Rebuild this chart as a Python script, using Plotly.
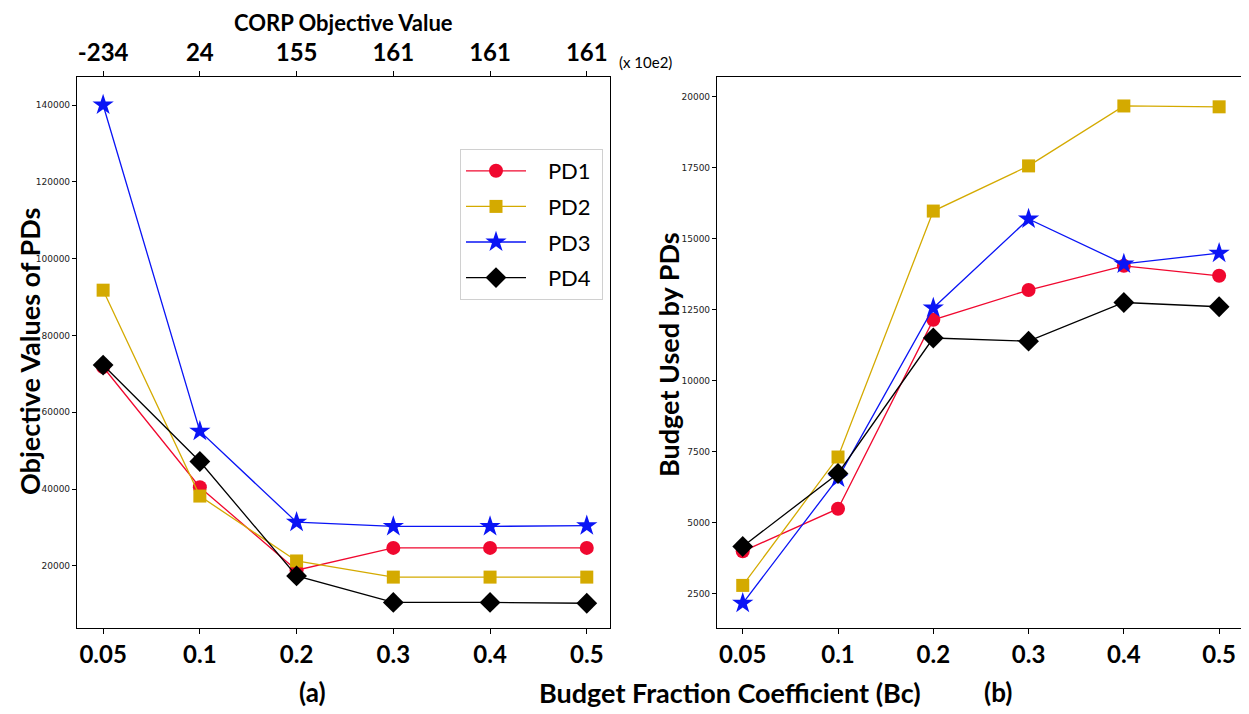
import plotly.graph_objects as go

categories = ["0.05", "0.1", "0.2", "0.3", "0.4", "0.5"]
corp_labels = ["-234", "24", "155", "161", "161", "161"]

obj_pd1 = [71800, 40500, 18900, 24700, 24700, 24700]
obj_pd2 = [91800, 38200, 21300, 17100, 17100, 17100]
obj_pd3 = [140000, 55100, 31400, 30300, 30300, 30500]
obj_pd4 = [72300, 47200, 17400, 10500, 10500, 10300]

bud_pd1 = [4000, 5500, 12150, 13200, 14050, 13700]
bud_pd2 = [2800, 7320, 15980, 17570, 19680, 19650]
bud_pd3 = [2170, 6580, 12570, 15700, 14120, 14500]
bud_pd4 = [4170, 6740, 11510, 11400, 12760, 12610]

names = ["PD1", "PD2", "PD3", "PD4"]
colors = ["#f0082f", "#d4aa00", "#0a14f5", "#000000"]
symbols = ["circle", "square", "star", "diamond"]
msizes = [14, 13, 16, 16]

OFF = 8  # page body margin
SW, SH = 1249, 714
W, H = SW - OFF, SH - OFF
FONT = "Lato"
NB = "\u00a0"

fig = go.Figure()
obj = [obj_pd1, obj_pd2, obj_pd3, obj_pd4]
bud = [bud_pd1, bud_pd2, bud_pd3, bud_pd4]
for i in range(4):
    fig.add_trace(go.Scatter(x=categories, y=obj[i], name=NB * 3 + names[i] + NB, mode="lines+markers",
                             legendgroup=names[i],
                             line=dict(color=colors[i], width=1.3),
                             marker=dict(symbol=symbols[i], size=msizes[i], color=colors[i], line=dict(width=0)),
                             xaxis="x", yaxis="y"))
for i in range(4):
    fig.add_trace(go.Scatter(x=categories, y=bud[i], name=names[i], mode="lines+markers",
                             legendgroup=names[i],
                             line=dict(color=colors[i], width=1.3),
                             marker=dict(symbol=symbols[i], size=msizes[i], color=colors[i], line=dict(width=0)),
                             xaxis="x2", yaxis="y2", showlegend=False))
# invisible trace to anchor the top axis
fig.add_trace(go.Scatter(x=categories, y=obj_pd1, xaxis="x3", yaxis="y", mode="markers",
                         marker=dict(opacity=0), showlegend=False, hoverinfo="skip"))

def px_x(p):
    return (p - OFF) / W

def px_y(p):
    return 1 - (p - OFF) / H

xdom1 = [px_x(77), px_x(610)]
xdom2 = [px_x(717), px_x(1242)]
ydom = [px_y(628), px_y(77)]

common_x = dict(type="category", range=[-0.27, 5.24], showline=True, linecolor="black", linewidth=1.2,
                ticks="outside", ticklen=5, tickcolor="black", showgrid=False, zeroline=False,
                tickfont=dict(family=FONT, size=24, color="black", weight="bold"))
common_y = dict(showline=True, linecolor="black", linewidth=1.2, ticks="outside", ticklen=4,
                tickcolor="black", showgrid=False, zeroline=False, tickformat="d",
                tickfont=dict(family="DejaVu Sans", size=9, color="#222"))

fig.update_layout(
    width=W, height=H, margin=dict(l=0, r=0, t=0, b=0),
    paper_bgcolor="white", plot_bgcolor="white",
    xaxis=dict(domain=xdom1, anchor="y", mirror=True, **common_x),
    xaxis2=dict(domain=xdom2, anchor="y2", mirror=True, **common_x),
    xaxis3=dict(type="category", range=[-0.27, 5.24], overlaying="x", side="top", anchor="y",
                tickvals=categories, ticktext=corp_labels, ticks="outside", ticklen=5,
                tickcolor="black", showgrid=False, zeroline=False, showline=False,
                tickfont=dict(family=FONT, size=24, color="black", weight="bold")),
    yaxis=dict(domain=ydom, anchor="x", range=[3850, 147300], mirror=True,
               tickvals=[20000, 40000, 60000, 80000, 100000, 120000, 140000], **common_y),
    yaxis2=dict(domain=ydom, anchor="x2", range=[1300, 20700], mirror=True,
                tickvals=[2500, 5000, 7500, 10000, 12500, 15000, 17500, 20000], **common_y),
    legend=dict(x=px_x(460), y=px_y(149), xanchor="left", yanchor="top",
                bgcolor="white", bordercolor="#d0d0d0", borderwidth=1,
                font=dict(family=FONT, size=22, color="black"),
                itemsizing="trace", traceorder="grouped", tracegroupgap=4,
                itemwidth=60),
    showlegend=True,
)

annots = [
    dict(text="CORP Objective Value", x=px_x(343), y=px_y(22), size=22, bold=True),
    dict(text="(x 10e2)", x=px_x(645), y=px_y(62), size=15, bold=False),
    dict(text="(a)", x=px_x(312), y=px_y(692), size=26, bold=True),
    dict(text="Budget Fraction Coefficient (Bc)", x=px_x(730), y=px_y(692), size=27, bold=True),
    dict(text="(b)", x=px_x(998), y=px_y(692), size=26, bold=True),
]
for a in annots:
    fig.add_annotation(text=a["text"], x=a["x"], y=a["y"], xref="paper", yref="paper",
                       showarrow=False, xanchor="center", yanchor="middle",
                       font=dict(family=FONT, size=a["size"], color="black",
                                 weight="bold" if a["bold"] else "normal"))
fig.add_annotation(text="Objective Values of PDs", x=px_x(30), y=px_y(352), xref="paper", yref="paper",
                   showarrow=False, textangle=-90, xanchor="center", yanchor="middle",
                   font=dict(family=FONT, size=27, color="black", weight="bold"))
fig.add_annotation(text="Budget Used by PDs", x=px_x(668), y=px_y(355), xref="paper", yref="paper",
                   showarrow=False, textangle=-90, xanchor="center", yanchor="middle",
                   font=dict(family=FONT, size=27, color="black", weight="bold"))

fig.write_html("out.html")
